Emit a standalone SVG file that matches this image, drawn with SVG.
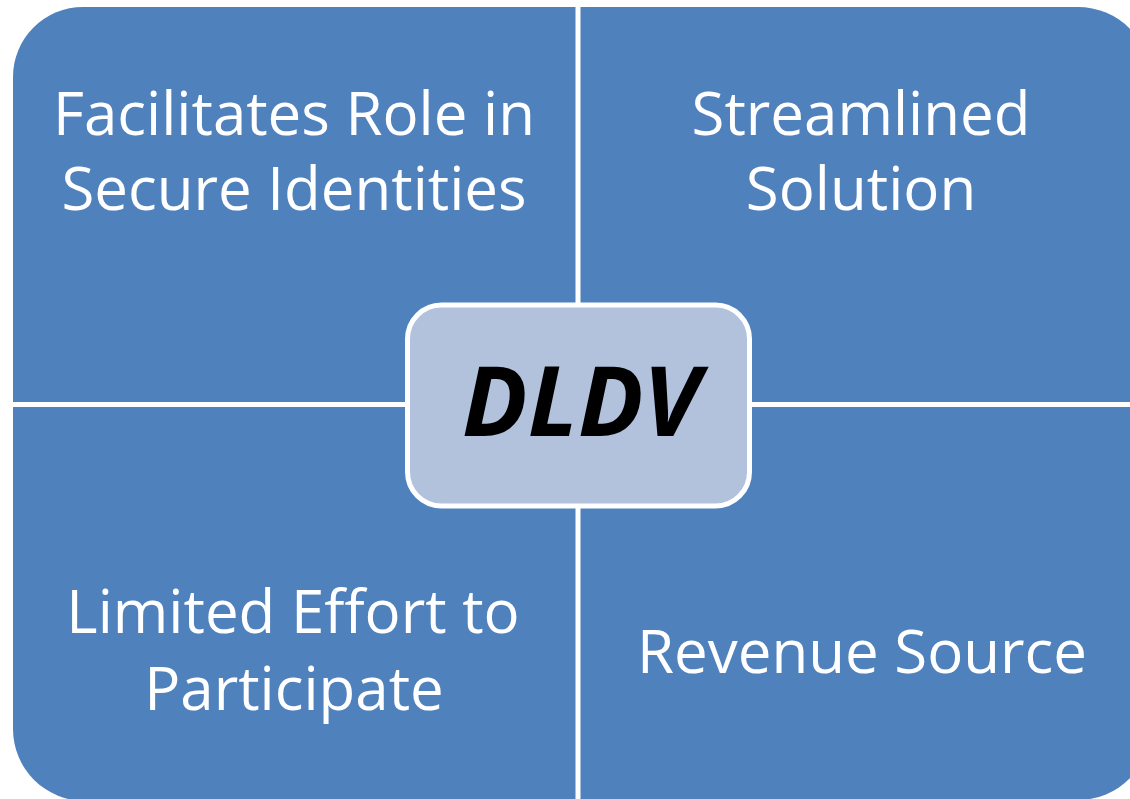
<svg xmlns="http://www.w3.org/2000/svg" width="1130" height="799" viewBox="0 0 1130 799">
<style>
.q{fill:#4F81BD;}
.t{font-family:"Open Sans","Liberation Sans",sans-serif;font-size:60px;fill:#FFFFFF;text-anchor:middle;}
.c{fill:#B2C2DD;stroke:#FFFFFF;stroke-width:5;}
.ct{font-family:"Noto Sans","Open Sans","Liberation Sans",sans-serif;font-size:97px;font-weight:bold;font-style:italic;fill:#000000;text-anchor:middle;}
</style>
<rect width="1130" height="799" fill="#FFFFFF"/>
<g id="q-top-left">
<path class="q" d="M13,77 A70,70 0 0 1 83,7 L575.5,7 L575.5,402 L13,402 Z"/>
<text class="t" x="294" y="135">Facilitates Role in</text>
<text class="t" x="294" y="210">Secure Identities</text>
</g>
<g id="q-top-right">
<path class="q" d="M580.5,7 L1078,7 A73,73 0 0 1 1151,80 L1151,402 L580.5,402 Z"/>
<text class="t" x="861" y="135">Streamlined</text>
<text class="t" x="861" y="210">Solution</text>
</g>
<g id="q-bottom-left">
<path class="q" d="M13,407 L575.5,407 L575.5,801 L85,801 A72,72 0 0 1 13,729 Z"/>
<text class="t" x="293" y="633">Limited Effort to</text>
<text class="t" x="294" y="710">Participate</text>
</g>
<g id="q-bottom-right">
<path class="q" d="M580.5,407 L1151,407 L1151,727 A73,73 0 0 1 1078,800 L580.5,800 Z"/>
<text class="t" x="862" y="673">Revenue Source</text>
</g>
<g id="center-dldv">
<rect class="c" x="407.5" y="305" width="342" height="201" rx="34" ry="34"/>
<text class="ct" x="581" y="436">DLDV</text>
</g>
</svg>
